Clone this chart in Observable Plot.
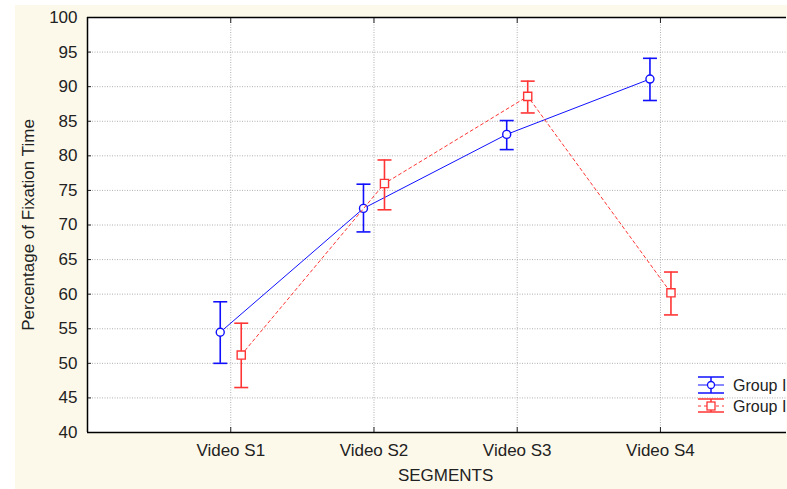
<!DOCTYPE html>
<html>
<head>
<meta charset="utf-8">
<script src="https://cdn.jsdelivr.net/npm/d3@7"></script>
<script src="https://cdn.jsdelivr.net/npm/@observablehq/plot@0.6"></script>
<style>
  html, body { margin: 0; padding: 0; background: white; overflow: hidden; }
  #chart svg { display: block; overflow: hidden; }
</style>
</head>
<body>
<div id="chart"></div>
<script>
// ---- data ----
const segments = ["Video S1", "Video S2", "Video S3", "Video S4"];
const groupNames = ["Group I", "Group II"];
const g1Mean = [54.5, 72.4, 83.1, 91.1];
const g1Low  = [50.0, 69.0, 80.9, 88.0];
const g1High = [58.9, 75.9, 85.1, 94.1];
const g2Mean = [51.2, 76.0, 88.6, 60.2];
const g2Low  = [46.5, 72.2, 86.2, 57.0];
const g2High = [55.8, 79.4, 90.8, 63.2];
const yTicks = [40, 45, 50, 55, 60, 65, 70, 75, 80, 85, 90, 95, 100];

const xPos = segments.map((s, i) => i + 1);
const g1 = segments.map((s, i) => ({x: xPos[i], mean: g1Mean[i], low: g1Low[i], high: g1High[i]}));
const g2 = segments.map((s, i) => ({x: xPos[i], mean: g2Mean[i], low: g2Low[i], high: g2High[i]}));

const BLUE = "#1010ff";
const RED = "#ff3535";
const OFF = 10.5;
const FS = 17;
const TXT = "#222";

const hline = {
  draw(context, size) {
    const r = Math.sqrt(size / Math.PI);
    context.moveTo(-r, 0);
    context.lineTo(r, 0);
  }
};

function groupMarks(data, color, dx, symbol, symR, dash) {
  return [
    Plot.line(data, {x: "x", y: "mean", dx, stroke: color, strokeWidth: 1, strokeDasharray: dash}),
    Plot.ruleX(data, {x: "x", y1: "low", y2: "high", dx, stroke: color, strokeWidth: 1.6}),
    Plot.dot(data, {x: "x", y: "high", dx, symbol: hline, r: 7, stroke: color, strokeWidth: 1.6}),
    Plot.dot(data, {x: "x", y: "low", dx, symbol: hline, r: 7, stroke: color, strokeWidth: 1.6}),
    Plot.dot(data, {x: "x", y: "mean", dx, symbol, r: symR, fill: "white", stroke: color, strokeWidth: 1.4})
  ];
}

const chart = Plot.plot({
  width: 787,
  height: 489,
  marginLeft: 87,
  marginTop: 17,
  marginBottom: 57,
  marginRight: 1,
  style: {
    fontFamily: "'Liberation Sans', Arial, sans-serif",
    fontSize: FS + "px",
    color: TXT,
    background: "linear-gradient(to right, white 15px, transparent 15px), linear-gradient(to bottom, white 5px, #fdf9ea 5px)",
    overflow: "hidden"
  },
  x: {domain: [0, 4.88]},
  y: {domain: [40, 100]},
  marks: [
    Plot.frame({fill: "white", stroke: null}),
    Plot.gridY(yTicks.slice(1, -1), {stroke: "#b0b0b0", strokeOpacity: 1, strokeDasharray: "1,1.5"}),
    Plot.gridX(xPos, {stroke: "#b0b0b0", strokeOpacity: 1, strokeDasharray: "1,1.5"}),
    Plot.axisY(yTicks, {anchor: "left", tickSize: -4, tickPadding: 14, label: null, fill: TXT, fontSize: FS}),
    Plot.axisX(xPos, {anchor: "bottom", tickSize: -5, tickPadding: 16, label: null, tickFormat: d => segments[d - 1], fill: TXT, fontSize: FS}),
    Plot.axisX(xPos, {anchor: "top", tickSize: -5, label: null, tickFormat: () => ""}),
    Plot.ruleY([100], {stroke: "black", strokeWidth: 1.5}),
    Plot.ruleY([40], {stroke: "black", strokeWidth: 1.5}),
    Plot.ruleX([0], {stroke: "black", strokeWidth: 1.5}),
    ...groupMarks(g1, BLUE, -OFF, "circle", 4, null),
    ...groupMarks(g2, RED, OFF, "square", 4.6, "3,3"),
    Plot.text(["Percentage of Fixation Time"], {frameAnchor: "left", textAnchor: "middle", rotate: -90, dx: -59, fill: TXT, fontSize: FS}),
    Plot.text(["SEGMENTS"], {x: 2.5, frameAnchor: "bottom", textAnchor: "middle", dy: 48, fill: TXT, fontSize: FS})
  ]
});

document.getElementById("chart").appendChild(chart);

// ---- legend (bottom right, inside the plot area; clipped at the right edge as in the reference) ----
const svg = d3.select(chart);
const lg = svg.append("g")
  .attr("font-family", "'Liberation Sans', Arial, sans-serif")
  .attr("font-size", 16)
  .attr("text-anchor", "start");
const legendItems = [
  {name: groupNames[0], color: BLUE, y: 385, dash: null, sym: "circle", top: 377, bot: 393},
  {name: groupNames[1], color: RED, y: 406, dash: "3,3", sym: "square", top: 399, bot: 412}
];
legendItems.forEach(it => {
  const x0 = 698, x1 = 724, xc = 711;
  lg.append("line").attr("x1", x0).attr("x2", x1).attr("y1", it.top).attr("y2", it.top).attr("stroke", it.color).attr("stroke-width", 1.5);
  lg.append("line").attr("x1", x0).attr("x2", x1).attr("y1", it.bot).attr("y2", it.bot).attr("stroke", it.color).attr("stroke-width", 1.5);
  lg.append("line").attr("x1", xc).attr("x2", xc).attr("y1", it.top).attr("y2", it.bot).attr("stroke", it.color).attr("stroke-width", 1.5);
  lg.append("line").attr("x1", x0).attr("x2", x1).attr("y1", it.y).attr("y2", it.y).attr("stroke", it.color).attr("stroke-width", 1).attr("stroke-dasharray", it.dash);
  if (it.sym === "circle") {
    lg.append("circle").attr("cx", xc).attr("cy", it.y).attr("r", 3.5).attr("fill", "white").attr("stroke", it.color).attr("stroke-width", 1.3);
  } else {
    lg.append("rect").attr("x", xc - 4).attr("y", it.y - 4).attr("width", 8).attr("height", 8).attr("fill", "white").attr("stroke", it.color).attr("stroke-width", 1.3);
  }
  lg.append("text").attr("x", 733).attr("y", it.y).attr("dy", "0.35em").attr("fill", TXT).attr("text-anchor", "start").text(it.name);
});
</script>
</body>
</html>
